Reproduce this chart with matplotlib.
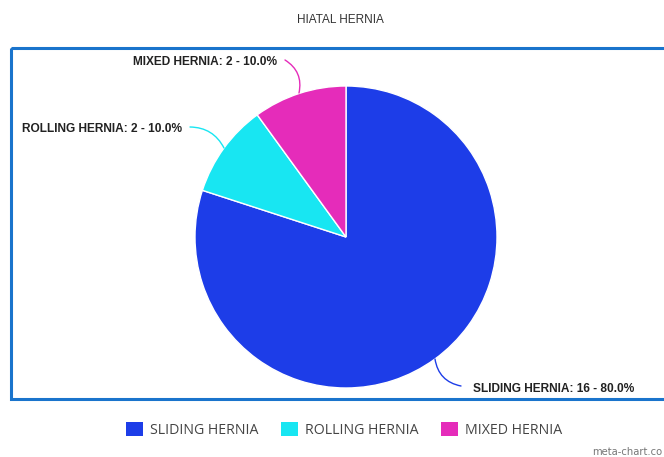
import matplotlib
matplotlib.use("Agg")
import matplotlib.pyplot as plt
from matplotlib.patches import Rectangle

categories = ["SLIDING HERNIA", "ROLLING HERNIA", "MIXED HERNIA"]
values = [16, 2, 2]
colors = ["#1d3de8", "#18e6f2", "#e52cba"]
title = "HIATAL HERNIA"

W, H = 664, 457
fig = plt.figure(figsize=(W / 100, H / 100), dpi=100)
ax = fig.add_axes([0, 0, 1, 1])

# chart border
ax.add_patch(Rectangle((10.5, 47.5), 700, 351, fill=False, edgecolor="#1a74cc", linewidth=2.2, zorder=1))

cx, cy, r = 346, 237, 151
wedges, _ = ax.pie(values, colors=colors, startangle=-90, counterclock=True,
                   center=(cx, cy), radius=r, frame=True,
                   wedgeprops=dict(edgecolor="white", linewidth=1.0))
ax.set_xlim(0, W)
ax.set_ylim(H, 0)
ax.axis("off")

total = sum(values)
labels = [f"{c}: {v} - {v / total * 100:.1f}%" for c, v in zip(categories, values)]

label_cfg = [
    dict(xy=(435, 359), end=(461, 386), text=(473, 389), ha="left", rad=-0.35),
    dict(xy=(224, 148), end=(190, 127), text=(182, 129), ha="right", rad=-0.3),
    dict(xy=(299, 93), end=(285, 60), text=(277, 62), ha="right", rad=-0.35),
]
for lab, cfg, col in zip(labels, label_cfg, colors):
    ax.annotate("", xy=cfg["xy"], xytext=cfg["end"],
                arrowprops=dict(arrowstyle="-", color=col, lw=1.0,
                                connectionstyle=f"arc3,rad={cfg['rad']}",
                                shrinkA=0, shrinkB=0))
    ax.text(cfg["text"][0], cfg["text"][1], lab, ha=cfg["ha"], va="center",
            fontsize=8.6, fontweight="bold", family="Liberation Sans", color="#222222")

ax.text(340, 20, title, ha="center", va="center", fontsize=8.5,
        family="Liberation Sans", color="#333333")

# legend
leg_x = [126, 281, 441]
for lx, c, col in zip(leg_x, categories, colors):
    ax.add_patch(Rectangle((lx, 422), 17, 14, facecolor=col, edgecolor="none"))
    ax.text(lx + 24, 430, c, ha="left", va="center", fontsize=10.2,
            family="Open Sans", color="#444444")

ax.text(662, 452, "meta-chart.co", ha="right", va="center", fontsize=7.2,
        family="DejaVu Sans", color="#777777")

fig.savefig("out.png", dpi=100)
